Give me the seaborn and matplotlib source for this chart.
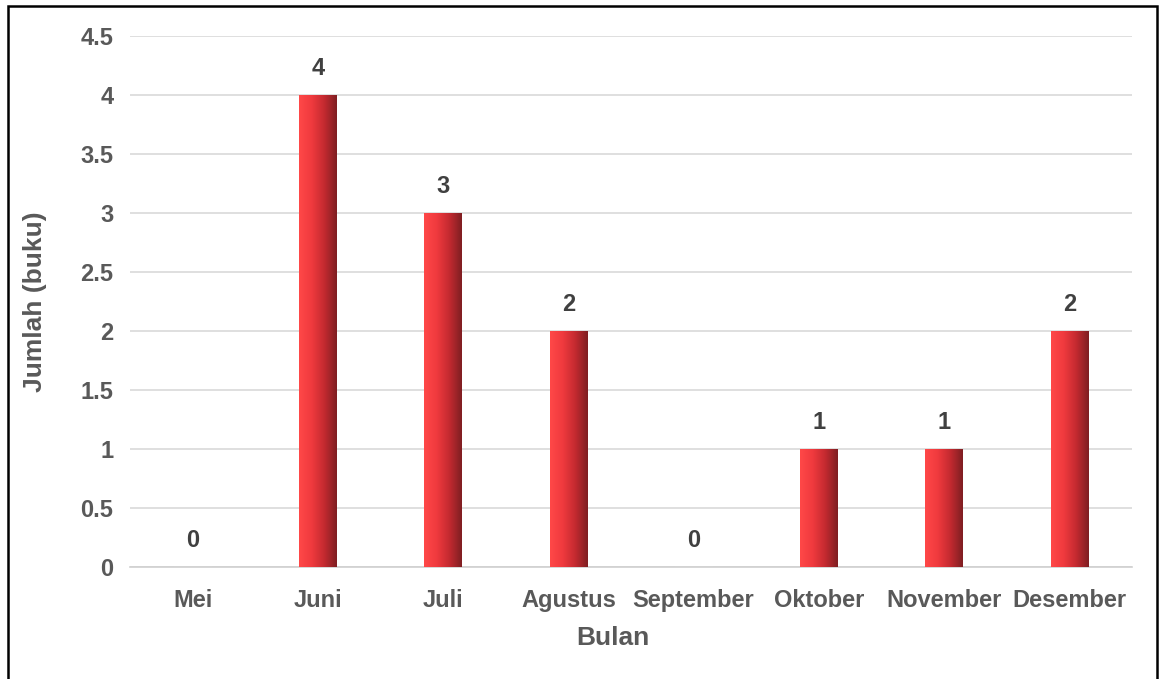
import numpy as np
import pandas as pd
import matplotlib
matplotlib.use("Agg")
import matplotlib.pyplot as plt
from matplotlib.colors import LinearSegmentedColormap
from matplotlib.patches import Rectangle
import seaborn as sns

bulan = ["Mei", "Juni", "Juli", "Agustus", "September", "Oktober", "November", "Desember"]
jumlah = [0, 4, 3, 2, 0, 1, 1, 2]

sns.set_theme(style="white")
plt.rcParams['font.family'] = ['Liberation Sans', 'DejaVu Sans']

df = pd.DataFrame({"Bulan": bulan, "Jumlah": jumlah})

fig = plt.figure(figsize=(11.66, 6.79), dpi=100)
ax = fig.add_axes([130 / 1166, 1 - 567 / 679, 1002 / 1166, 531 / 679])

sns.barplot(data=df, x="Bulan", y="Jumlah", ax=ax, width=0.3, color="#ff4444", zorder=2)

# horizontal gradient on each bar
grad = LinearSegmentedColormap.from_list("g", ["#ff4848", "#f03a3e", "#c42a30", "#7e1e22"])
gimg = np.linspace(0, 1, 256).reshape(1, -1)
for p in ax.patches:
    x0, y0 = p.get_x(), p.get_y()
    w, h = p.get_width(), p.get_height()
    if h <= 0:
        continue
    p.set_alpha(0)
    im = ax.imshow(gimg, cmap=grad, aspect="auto", extent=[x0, x0 + w, y0, y0 + h],
                   zorder=3, interpolation="bicubic")
    clip = Rectangle((x0, y0), w, h, transform=ax.transData, fill=False, lw=0)
    ax.add_patch(clip)
    im.set_clip_path(clip)

for i, v in enumerate(jumlah):
    ax.text(i, v + 0.13, f"{v}", ha="center", va="bottom", fontsize=17,
            fontweight="bold", color="#404040")

ax.set_xlim(-0.5, len(bulan) - 0.5)
ax.set_ylim(0, 4.5)
ax.set_yticks(np.arange(0, 4.51, 0.5))
ax.set_yticklabels(["0", "0.5", "1", "1.5", "2", "2.5", "3", "3.5", "4", "4.5"])
ax.grid(axis="y", color="#d9d9d9", lw=1.2, zorder=0)
ax.set_axisbelow(True)
for s in ["top", "right", "left"]:
    ax.spines[s].set_visible(False)
ax.spines["bottom"].set_color("#d0d0d0")
ax.spines["bottom"].set_linewidth(1.2)
ax.tick_params(axis="y", length=0, labelsize=17, labelcolor="#595959", pad=12)
ax.tick_params(axis="x", length=0, labelsize=17, labelcolor="#595959", pad=16)
for lbl in ax.get_xticklabels() + ax.get_yticklabels():
    lbl.set_fontweight("bold")

ax.set_xlabel("Bulan", fontsize=19, fontweight="bold", color="#595959", va="center")
ax.set_ylabel("Jumlah (buku)", fontsize=19, fontweight="bold", color="#595959", va="center")
ax.xaxis.set_label_coords(0.482, -0.134)
ax.yaxis.set_label_coords(-0.095, 0.5)

fig.patches.append(Rectangle((8 / 1166, -0.02), 1149 / 1166, 1.02 - 6 / 679,
                             transform=fig.transFigure, fill=False, ec="#000000", lw=1.8))

fig.savefig("out.png", dpi=100)
